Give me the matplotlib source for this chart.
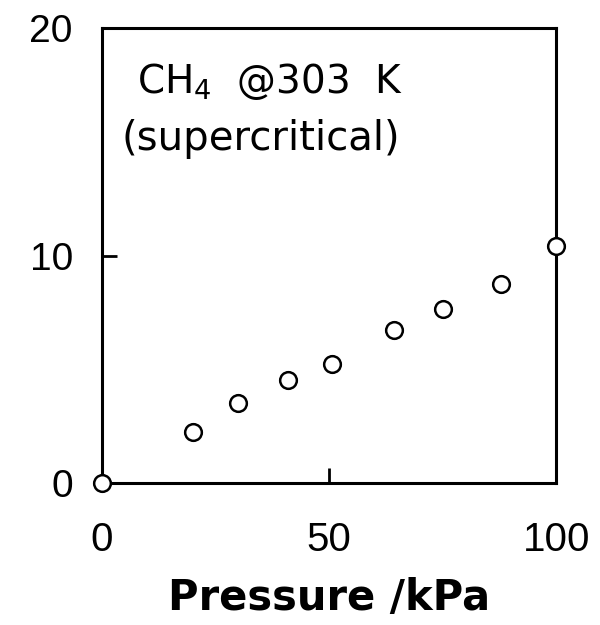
import matplotlib
matplotlib.use('Agg')
import matplotlib.pyplot as plt

plt.rcParams['font.family'] = ['Liberation Sans', 'DejaVu Sans']
plt.rcParams['mathtext.fontset'] = 'custom'
plt.rcParams['mathtext.rm'] = 'DejaVu Sans'

pressure = [0, 20, 30, 41, 50.7, 64.3, 75.1, 87.9, 100]
uptake = [0, 2.24, 3.52, 4.53, 5.23, 6.73, 7.65, 8.75, 10.42]

xticks = [0, 50, 100]
yticks = [0, 10, 20]

fig = plt.figure(figsize=(6, 6.25), dpi=100)
ax = fig.add_axes([0.17, 0.227, 0.757, 0.728])

ax.plot(pressure, uptake, 'o', ms=12, mfc='white', mec='black', mew=1.8,
        clip_on=False, zorder=5)

ax.set_xlim(0, 100)
ax.set_ylim(0, 20)
ax.set_xticks(xticks)
ax.set_yticks(yticks)
ax.tick_params(direction='in', length=11, width=2)
ax.tick_params(axis='x', pad=27, labelsize=29)
ax.tick_params(axis='y', pad=21, labelsize=28)
for s in ax.spines.values():
    s.set_linewidth(2.2)

ax.set_xlabel('Pressure /kPa', fontsize=30, fontweight='bold',
              family='DejaVu Sans', labelpad=13)

ax.text(0.077, 0.857, 'CH$_\\mathregular{4}$  @303  K', transform=ax.transAxes,
        fontsize=28, va='baseline', ha='left', family='DejaVu Sans')
ax.text(0.044, 0.732, '(supercritical)', transform=ax.transAxes, fontsize=29,
        va='baseline', ha='left', family='DejaVu Sans')

fig.savefig('out.png', dpi=100)
